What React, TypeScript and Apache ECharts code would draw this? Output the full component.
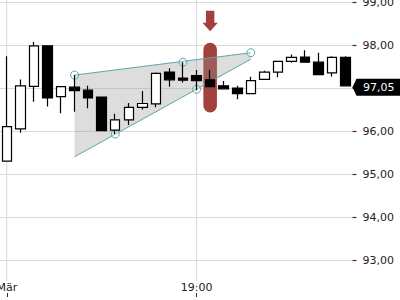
import React, { useEffect, useRef } from "react";
import * as echarts from "echarts";

const categories = [
  "Mär", "16:50", "17:00", "17:10", "17:20", "17:30", "17:40", "17:50", "18:00",
  "18:10", "18:20", "18:30", "18:40", "18:50", "19:00", "19:10", "19:20", "19:30",
  "19:40", "19:50", "20:00", "20:10", "20:20", "20:30", "20:40", "20:50",
];
const tickLabels = ["Mär", "19:00"];

// [open, close, low, high]
const opens = [95.30, 96.05, 97.04, 97.98, 96.80, 97.02, 96.95, 96.79, 96.02, 96.26, 96.55, 96.63, 97.37, 97.23, 97.29, 97.19, 97.05, 97.00, 96.87, 97.20, 97.37, 97.62, 97.72, 97.60, 97.35, 97.71];
const closes = [96.10, 97.05, 97.98, 96.77, 97.03, 96.94, 96.77, 96.01, 96.26, 96.55, 96.64, 97.34, 97.19, 97.18, 97.17, 97.03, 96.98, 96.87, 97.17, 97.37, 97.62, 97.71, 97.60, 97.31, 97.71, 97.05];
const lows = [95.30, 95.96, 96.68, 96.57, 96.41, 96.45, 96.53, 96.00, 95.93, 96.14, 96.50, 96.55, 97.03, 97.13, 96.95, 97.03, 96.98, 96.74, 96.87, 97.20, 97.25, 97.59, 97.60, 97.31, 97.27, 97.05];
const highs = [97.74, 97.20, 98.07, 97.98, 97.03, 97.30, 97.05, 96.79, 96.40, 96.65, 96.93, 97.36, 97.46, 97.60, 97.42, 97.42, 97.16, 97.05, 97.26, 97.40, 97.62, 97.78, 97.88, 97.82, 97.74, 97.74];

const yTicks = [93, 94, 95, 96, 97, 98, 99];

// annotation (drawing) anchors: [category index, price]
const wedgeTop = [[5, 97.30], [18, 97.82]];
const wedgeBottom = [[5, 95.40], [18, 97.67]];
const wedgeAnchors = [[5, 97.30], [13, 97.60], [18, 97.82], [8, 95.93], [14, 96.97]];
const highlightIndex = 15;
const highlightRange = [98.05, 96.43];

const FONT = "DejaVu Sans";
const fmt = (v: number) => v.toFixed(2).replace(".", ",");

export default function App() {
  const ref = useRef<HTMLDivElement>(null);
  useEffect(() => {
    if (!ref.current) return;
    const chart = echarts.init(ref.current, null, { renderer: "svg" });
    const candleData = opens.map((o, i) => [o, closes[i], lows[i], highs[i]]);
    const showIdx = (i: number) => tickLabels.includes(categories[i]);
    const lastIdx = categories.length - 1;
    const lastClose = closes[lastIdx];

    const drawAnnot = (params: any, api: any) => {
      const cs = params.coordSys;
      const bw = api.size([1, 0])[0];
      const c = (p: number[]) => api.coord(p);
      const children: any[] = [];
      categories.forEach((cat, i) => {
        if (!tickLabels.includes(cat)) return;
        const [x] = c([i, yTicks[0]]);
        children.push({
          type: "line",
          shape: { x1: x, y1: 0, x2: x, y2: cs.y + cs.height + 21 },
          style: { stroke: "#dadada", lineWidth: 1 },
        });
      });
      const [hx, hTop] = c([highlightIndex, highlightRange[0]]);
      const [, hBot] = c([highlightIndex, highlightRange[1]]);
      children.push({
        type: "rect",
        shape: { x: hx - bw / 2, y: hTop, width: bw, height: hBot - hTop, r: bw / 2 },
        style: { fill: "#a2423c" },
      });
      children.push({
        type: "polygon",
        shape: {
          points: [
            [hx - 4.2, hTop - 32], [hx + 4.2, hTop - 32], [hx + 4.2, hTop - 20],
            [hx + 7.7, hTop - 20], [hx, hTop - 11.5], [hx - 7.7, hTop - 20], [hx - 4.2, hTop - 20],
          ],
        },
        style: { fill: "#a63f3b" },
      });
      const pts = [c(wedgeTop[0]), c(wedgeTop[1]), c(wedgeBottom[1]), c(wedgeBottom[0])];
      children.push({
        type: "polygon",
        shape: { points: pts },
        style: { fill: "rgba(150,150,150,0.32)" },
      });
      children.push({
        type: "line",
        shape: { x1: pts[0][0], y1: pts[0][1], x2: pts[1][0], y2: pts[1][1] },
        style: { stroke: "#5fa6aa", lineWidth: 1 },
      });
      children.push({
        type: "line",
        shape: { x1: pts[3][0], y1: pts[3][1], x2: pts[2][0], y2: pts[2][1] },
        style: { stroke: "#5fa6aa", lineWidth: 1 },
      });
      wedgeAnchors.forEach((a) => {
        const [x, y] = c(a);
        children.push({
          type: "circle",
          shape: { cx: x, cy: y, r: 4 },
          style: { fill: "rgba(255,255,255,0.3)", stroke: "#5fa6aa", lineWidth: 1 },
        });
      });
      return { type: "group", children };
    };

    const drawTag = (params: any, api: any) => {
      const cs = params.coordSys;
      const [, y] = api.coord([lastIdx, lastClose]);
      const x0 = cs.x + cs.width;
      const h = 8.5;
      const yc = y + 1.5;
      return {
        type: "group",
        children: [
          {
            type: "polygon",
            shape: {
              points: [[x0, yc], [x0 + 4, yc - h], [400, yc - h], [400, yc + h], [x0 + 4, yc + h]],
            },
            style: { fill: "#000" },
          },
          {
            type: "text",
            style: {
              x: x0 + 10.5, y: yc, text: fmt(lastClose), fill: "#fff",
              font: `11px "${FONT}"`, verticalAlign: "middle", align: "left",
            },
          },
        ],
      };
    };

    chart.setOption({
      animation: false,
      textStyle: { fontFamily: FONT },
      grid: { left: 0, right: 47.5, top: 2, bottom: 40, containLabel: false, outerBoundsMode: "none" },
      xAxis: {
        type: "category",
        data: categories,
        boundaryGap: true,
        offset: 33,
        axisLine: { show: false },
        axisTick: {
          show: true, alignWithLabel: true, length: 4,
          interval: (i: number) => showIdx(i),
          lineStyle: { color: "#333", width: 1 },
        },
        axisLabel: {
          interval: (i: number) => showIdx(i),
          inside: true, margin: 0, fontSize: 11, color: "#222", fontFamily: FONT,
        },
        splitLine: { show: false },
      },
      yAxis: {
        type: "value",
        position: "right",
        min: yTicks[0],
        max: yTicks[yTicks.length - 1],
        interval: 1,
        axisLine: { show: false },
        axisTick: { show: true, length: 4, lineStyle: { color: "#333", width: 1.2 } },
        axisLabel: { margin: 10, fontSize: 11, color: "#222", fontFamily: FONT, formatter: (v: number) => fmt(v) },
        splitLine: { lineStyle: { color: "#dadada", width: 1 } },
      },
      series: [
        {
          type: "custom",
          z: 1,
          clip: false,
          renderItem: drawAnnot,
          data: [[0, yTicks[0]]],
          silent: true,
        },
        {
          type: "candlestick",
          z: 3,
          data: candleData,
          barWidth: 10,
          itemStyle: {
            color: "#ffffff",
            color0: "#000000",
            borderColor: "#000000",
            borderColor0: "#000000",
            borderWidth: 1.2,
          },
        },
        {
          type: "custom",
          z: 5,
          clip: false,
          renderItem: drawTag,
          data: [[lastIdx, lastClose]],
          silent: true,
        },
      ],
    });
    return () => chart.dispose();
  }, []);
  return <div ref={ref} style={{ width: 400, height: 300, position: "absolute", left: 0, top: 0 }} />;
}
